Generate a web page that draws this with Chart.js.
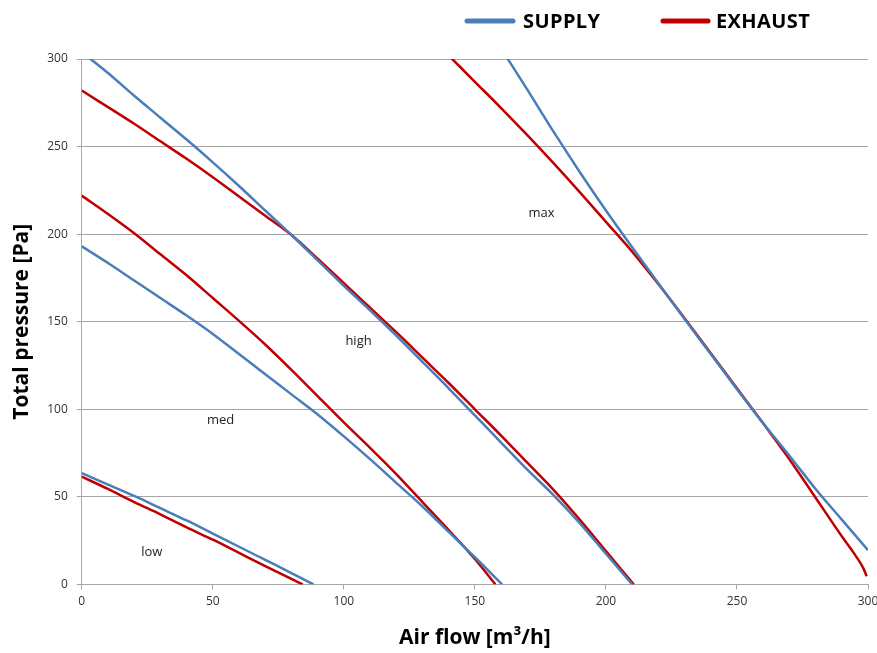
<!DOCTYPE html>
<html>
<head>
<meta charset="utf-8">
<script src="https://cdn.jsdelivr.net/npm/chart.js@4/dist/chart.umd.min.js"></script>
<style>
  html, body { margin: 0; padding: 0; background: #ffffff; }
  #wrap { width: 877px; height: 653px; }
</style>
</head>
<body>
<div id="wrap"><canvas id="c" width="877" height="653"></canvas></div>
<script>
// ---- Data ----
const seriesNames = ["SUPPLY", "EXHAUST"];
const speedLabels = ["low", "med", "high", "max"];
const speedLabelFlow = [26.7, 53, 105.6, 175.4];
const speedLabelPressure = [18.3, 93.7, 138.9, 212];

const lowSupplyFlow     = [0, 10, 20, 30, 40, 50, 60, 70, 80, 88.4];
const lowSupplyPressure = [63.5, 57, 50.5, 43.5, 36.5, 29, 21.5, 14, 6.5, 0];
const lowExhaustFlow     = [0, 10, 20, 30, 40, 50, 60, 70, 80, 84.3];
const lowExhaustPressure = [61.5, 54.5, 47, 40, 32.5, 25.5, 18, 10.5, 3.2, 0];

const medSupplyFlow     = [0, 10, 20, 30, 40, 50, 60, 70, 80, 90, 100, 110, 120, 130, 140, 150, 160.4];
const medSupplyPressure = [193, 183.5, 173.5, 163.5, 153.5, 143, 131.5, 120, 108.5, 97, 84.5, 71.5, 58, 44.5, 30, 15.5, 0];
const medExhaustFlow     = [0, 10, 20, 30, 40, 50, 60, 70, 80, 90, 100, 110, 120, 130, 140, 150, 157.8];
const medExhaustPressure = [222, 211.5, 200.5, 188.5, 176.5, 163.5, 150.5, 137, 122.5, 107.5, 92.5, 78, 63, 47, 31, 14.5, 0];

const highSupplyFlow     = [0, 10, 20, 30, 40, 50, 60, 70, 80, 90, 100, 110, 120, 130, 140, 150, 160, 170, 180, 190, 200, 210];
const highSupplyPressure = [304, 292, 279, 266.5, 254, 241, 227.5, 213.5, 199.5, 185, 170.5, 156.5, 142, 127, 112, 96.5, 81, 65.5, 51, 35, 17.5, 0];
const highExhaustFlow     = [0, 10, 20, 30, 40, 50, 60, 70, 80, 90, 100, 110, 120, 130, 140, 150, 160, 170, 180, 190, 200, 210.6];
const highExhaustPressure = [282, 272.5, 263, 253, 243, 232.5, 221.5, 210.5, 199.5, 186, 172, 158, 144, 129.5, 115, 100, 85, 69.5, 54, 37, 19, 0];

const maxSupplyFlow     = [160, 170, 180, 190, 200, 210, 220, 230, 240, 250, 260, 270, 280, 290, 300];
const maxSupplyPressure = [306, 282.5, 258.5, 235.5, 213.5, 192.5, 172, 151.5, 131.5, 111.5, 92, 73.5, 54.5, 37, 19.5];
const maxExhaustFlow     = [135, 140, 150, 160, 170, 180, 190, 200, 210, 220, 230, 240, 250, 260, 270, 280, 290, 295, 298.3, 299.5];
const maxExhaustPressure = [309.5, 302, 287, 272, 256.5, 240.5, 224, 207, 190, 171.5, 152, 132, 112, 92, 71.5, 49.5, 27.5, 17, 9, 4.6];

const xTicks = [0, 50, 100, 150, 200, 250, 300];
const yTicks = [0, 50, 100, 150, 200, 250, 300];

// ---- Styles ----
const SUPPLY_COLOR = "#4a7ebb";
const EXHAUST_COLOR = "#c00000";
const FONT = "'Open Sans', 'Noto Sans', sans-serif";

function pts(xs, ys) { return xs.map((x, i) => ({ x: x, y: ys[i] })); }
function ds(name, xs, ys, color) {
  return {
    label: name,
    data: pts(xs, ys),
    borderColor: color,
    backgroundColor: color,
    borderWidth: 2.5,
    pointRadius: 0,
    cubicInterpolationMode: "monotone",
    fill: false
  };
}

const datasets = [
  ds(seriesNames[0], lowSupplyFlow, lowSupplyPressure, SUPPLY_COLOR),
  ds(seriesNames[1], lowExhaustFlow, lowExhaustPressure, EXHAUST_COLOR),
  ds(seriesNames[0], medSupplyFlow, medSupplyPressure, SUPPLY_COLOR),
  ds(seriesNames[1], medExhaustFlow, medExhaustPressure, EXHAUST_COLOR),
  ds(seriesNames[0], highSupplyFlow, highSupplyPressure, SUPPLY_COLOR),
  ds(seriesNames[1], highExhaustFlow, highExhaustPressure, EXHAUST_COLOR),
  ds(seriesNames[0], maxSupplyFlow, maxSupplyPressure, SUPPLY_COLOR),
  ds(seriesNames[1], maxExhaustFlow, maxExhaustPressure, EXHAUST_COLOR)
];

// Plugin: in-plot speed labels and top legend
const annotations = {
  id: "annotations",
  afterDatasetsDraw(chart) {
    const ctx = chart.ctx;
    const xs = chart.scales.x, ys = chart.scales.y;
    ctx.save();
    ctx.fillStyle = "#222222";
    ctx.font = "13px " + FONT;
    ctx.textAlign = "center";
    ctx.textBaseline = "middle";
    speedLabels.forEach((t, i) => {
      ctx.fillText(t, xs.getPixelForValue(speedLabelFlow[i]), ys.getPixelForValue(speedLabelPressure[i]));
    });
    // legend
    const items = [
      { name: seriesNames[0], color: SUPPLY_COLOR, x0: 467, x1: 513, tx: 523 },
      { name: seriesNames[1], color: EXHAUST_COLOR, x0: 663, x1: 708, tx: 716 }
    ];
    items.forEach(it => {
      ctx.beginPath();
      ctx.strokeStyle = it.color;
      ctx.lineWidth = 5;
      ctx.lineCap = "round";
      ctx.moveTo(it.x0, 21);
      ctx.lineTo(it.x1, 21);
      ctx.stroke();
      ctx.fillStyle = "#000000";
      ctx.font = "bold 20px " + FONT;
      try { ctx.letterSpacing = "0.4px"; } catch (e) {}
      ctx.textAlign = "left";
      ctx.textBaseline = "middle";
      ctx.fillText(it.name, it.tx, 22);
      try { ctx.letterSpacing = "0px"; } catch (e) {}
    });
    ctx.restore();
  }
};

new Chart(document.getElementById("c"), {
  type: "line",
  data: { datasets: datasets },
  options: {
    responsive: false,
    animation: false,
    layout: { padding: { left: 9, right: 9, top: 59, bottom: 2 } },
    plugins: {
      legend: { display: false },
      tooltip: { enabled: false }
    },
    scales: {
      x: {
        type: "linear",
        min: 0, max: 300,
        afterBuildTicks: (s) => { s.ticks = xTicks.map(v => ({ value: v })); },
        afterFit: (s) => { s.paddingRight = 0; },
        ticks: { color: "#333333", font: { family: FONT, size: 12 }, padding: 5, maxRotation: 0 },
        grid: { drawOnChartArea: false, drawTicks: true, tickLength: 5, color: "#a6a6a6" },
        border: { display: true, color: "#a6a6a6", width: 1 },
        title: {
          display: true,
          text: "Air flow [m³/h]",
          color: "#000000",
          font: { family: FONT, size: 21, weight: "bold" },
          padding: { top: 12, bottom: 0 }
        }
      },
      y: {
        type: "linear",
        min: 0, max: 300,
        afterBuildTicks: (s) => { s.ticks = yTicks.map(v => ({ value: v })); },
        ticks: { color: "#333333", font: { family: FONT, size: 12 }, padding: 9 },
        grid: { drawOnChartArea: true, drawTicks: true, tickLength: 5, color: "#a6a6a6" },
        border: { display: true, color: "#a6a6a6", width: 1 },
        title: {
          display: true,
          text: "Total pressure [Pa]",
          color: "#000000",
          font: { family: FONT, size: 21, weight: "bold" },
          padding: { top: 0, bottom: 4 }
        }
      }
    }
  },
  plugins: [annotations]
});
</script>
</body>
</html>
